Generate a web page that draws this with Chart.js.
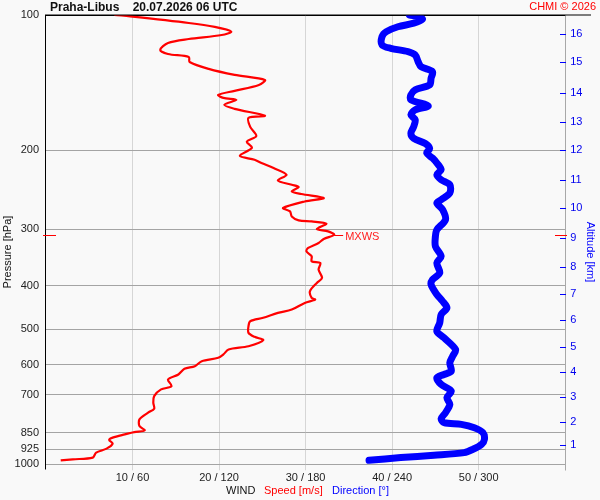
<!DOCTYPE html>
<html>
<head>
<meta charset="utf-8">
<script src="https://cdn.jsdelivr.net/npm/chart.js@4.4.1/dist/chart.umd.min.js"></script>
<style>
html, body { margin: 0; padding: 0; background: #f9f9f9; }
#wrap { width: 600px; height: 500px; }
</style>
</head>
<body>
<div id="wrap"><canvas id="chart"></canvas></div>
<script>
// axis ticks
const pressureTicks = [100, 200, 300, 400, 500, 600, 700, 850, 925, 1000];
const speedTicks = [10, 20, 30, 40, 50];
const altitudeKm = [1, 2, 3, 4, 5, 6, 7, 8, 9, 10, 11, 12, 13, 14, 15, 16];
const altitudePressure = [907, 804, 709, 624, 547, 478, 418, 363, 313, 269, 233, 200, 173, 149, 127, 110];

// wind speed profile [hPa] / [m/s]
const speedPressure = [100, 100.4, 104.2, 106.3, 108.9, 110.8, 113.1, 115.4, 119.6, 122.1,
    124, 127.2, 131.8, 135.9, 139.5, 143.1, 147.5, 150.6, 152.9, 154.5,
    158.5, 161.8, 167.6, 169.4, 177.4, 185.8, 191.5, 197.5, 205.8, 210,
    213.5, 219.1, 226.8, 233.5, 238.7, 241.5, 247, 250.3, 255.5, 260,
    268.9, 273.6, 280.7, 286.5, 288, 291.4, 299.4, 303.1, 308.3, 315.1,
    321.7, 330, 335.8, 344.4, 353.4, 356.4, 368.8, 384.8, 394.7, 412,
    426.1, 429.9, 437.3, 452.5, 460.2, 472, 480.4, 492.8, 509.8, 520.3,
    529.4, 546, 555.3, 569.6, 579.4, 589.5, 604.8, 612.9, 631, 647.4,
    670, 681.3, 705, 729.4, 752, 767.6, 794.4, 822, 840.5, 847.8,
    857.7, 872.3, 883, 899.5, 922.8, 941.9, 966.3, 974.7, 980];
const speed = [7.9, 9.0, 16.5, 19.5, 21.4, 20.3, 16.5, 14.1, 13.2, 14.1,
    16.5, 16.6, 18.8, 21.8, 25.3, 24.6, 21.8, 19.9, 20.5, 22.0,
    20.6, 21.8, 25.3, 23.4, 23.6, 24.3, 23.2, 23.8, 22.4, 24.1,
    24.9, 26.3, 27.8, 26.8, 28.4, 29.2, 28.4, 29.5, 32.1, 29.9,
    27.4, 28.2, 28.4, 29.2, 30.7, 32.4, 31.3, 32.6, 33.3, 32.1,
    31.5, 30.3, 30.1, 30.7, 30.7, 31.7, 31.5, 31.9, 31.3, 30.5,
    30.7, 31.1, 29.9, 28.4, 26.8, 25.1, 23.6, 23.4, 23.4, 24.1,
    25.1, 23.4, 21.1, 20.5, 19.9, 18.0, 17.2, 16.0, 15.3, 14.1,
    14.5, 13.3, 12.5, 12.4, 12.5, 11.8, 10.8, 10.8, 11.4, 10.2,
    9.1, 7.7, 7.3, 7.7, 7.0, 5.8, 5.4, 3.1, 1.7];

// wind direction profile [hPa] / [deg]
const dirPressure = [100, 100.9, 102.2, 104.3, 106.2, 108.9, 111.7, 116.6, 118.6, 120.6,
    122.7, 127, 130.3, 133.7, 138.3, 143.1, 146.8, 150.6, 154.5, 159.3,
    162.6, 166.8, 171.1, 177.1, 183.3, 188.2, 193.2, 198.2, 202.9, 208.2,
    213.5, 221, 226.8, 232.6, 238.7, 249, 257.7, 262.2, 271.2, 285.5,
    300.5, 311, 327.3, 344.4, 356.4, 375, 388.1, 398.1, 419, 433.6,
    448.5, 464.2, 484.4, 505.6, 523, 555.3, 574.5, 594.3, 620.4, 631,
    641.8, 664.1, 687.2, 711, 735.7, 767.6, 791.8, 808, 815, 829,
    850.4, 879.9, 902.7, 926.1, 942, 955, 966.3, 980];
const direction = [252, 259, 261, 255, 244, 236, 233, 233, 239, 251,
    256, 258, 260, 268, 267, 266, 256, 253, 253, 265,
    256, 253, 256, 255, 253, 255, 263, 266, 264, 268,
    271, 274, 271, 274, 280, 280, 274, 271, 275, 277,
    271, 270, 270, 274, 271, 273, 268, 267, 271, 275,
    278, 274, 273, 271, 276, 284, 282, 280, 281, 276,
    271, 274, 281, 278, 280, 277, 274, 276, 288, 297,
    303, 304, 302, 296, 290, 269, 246, 224];

const FONT = "'Liberation Sans', Arial, sans-serif";
Chart.defaults.font.family = FONT;
Chart.defaults.font.size = 11;
Chart.defaults.color = '#222';

// index of the strongest wind (MXWS)
let iMax = 0;
speed.forEach((v, i) => { if (v > speed[iMax]) iMax = i; });

const decor = {
    id: 'decor',
    beforeDraw(chart) {
        const c = chart.ctx;
        c.save();
        c.fillStyle = '#f9f9f9';
        c.fillRect(0, 0, chart.width, chart.height);
        c.restore();
    },
    afterDraw(chart) {
        const c = chart.ctx, a = chart.chartArea;
        const x = chart.scales.x, y = chart.scales.y;
        c.save();
        c.lineWidth = 1;

        // frame
        c.strokeStyle = '#a8a8a8';
        c.beginPath(); c.moveTo(565.5, a.top); c.lineTo(565.5, 470.5); c.stroke();
        c.strokeStyle = '#000';
        c.beginPath(); c.moveTo(45.5, a.top); c.lineTo(45.5, 469.5); c.stroke();
        c.beginPath(); c.moveTo(45, a.top); c.lineTo(591, a.top); c.stroke();

        // altitude tick marks
        c.strokeStyle = '#0000ff';
        altitudePressure.forEach(p => {
            const py = Math.round(y.getPixelForValue(p)) + 0.5;
            c.beginPath(); c.moveTo(560, py); c.lineTo(566, py); c.stroke();
        });

        // max wind marker
        const my = Math.round(y.getPixelForValue(speedPressure[iMax])) + 0.5;
        const mx = x.getPixelForValue(speed[iMax]);
        c.strokeStyle = '#ff0000';
        c.beginPath(); c.moveTo(43, my); c.lineTo(56, my); c.stroke();
        c.beginPath(); c.moveTo(555, my); c.lineTo(567, my); c.stroke();
        c.beginPath(); c.moveTo(mx, my); c.lineTo(mx + 9, my); c.stroke();
        c.fillStyle = '#ff2020';
        c.font = '11px ' + FONT;
        c.textBaseline = 'middle';
        c.textAlign = 'left';
        c.fillText('MXWS', mx + 11, my + 1);

        // header
        c.fillStyle = '#111';
        c.font = 'bold 12px ' + FONT;
        c.fillText('Praha-Libus    20.07.2026 06 UTC', 50, 8);
        c.fillStyle = '#ff0000';
        c.font = '11px ' + FONT;
        c.textAlign = 'right';
        c.fillText('CHMI \u00a9 2026', 596, 7);

        // bottom legend
        c.textAlign = 'left';
        c.fillStyle = '#111';
        c.fillText('WIND', 226, 491);
        c.fillStyle = '#ff0000';
        c.fillText('Speed [m/s]', 264, 491);
        c.fillStyle = '#0000ff';
        c.fillText('Direction [\u00b0]', 332, 491);

        // axis titles
        c.textAlign = 'center';
        c.fillStyle = '#111';
        c.save();
        c.translate(8, 252);
        c.rotate(-Math.PI / 2);
        c.fillText('Pressure [hPa]', 0, 0);
        c.restore();
        c.fillStyle = '#0000ff';
        c.save();
        c.translate(590, 252);
        c.rotate(Math.PI / 2);
        c.fillText('Altitude [km]', 0, 0);
        c.restore();

        c.restore();
    }
};

new Chart(document.getElementById('chart'), {
    type: 'scatter',
    data: {
        datasets: [{
            label: 'Direction',
            data: dirPressure.map((p, i) => ({ x: direction[i], y: p })),
            xAxisID: 'xDir',
            yAxisID: 'y',
            showLine: true,
            borderColor: '#0000ff',
            borderWidth: 7,
            borderCapStyle: 'round',
            borderJoinStyle: 'round',
            pointRadius: 0,
            tension: 0.3
        }, {
            label: 'Speed',
            data: speedPressure.map((p, i) => ({ x: speed[i], y: p })),
            xAxisID: 'x',
            yAxisID: 'y',
            showLine: true,
            borderColor: '#ff0000',
            borderWidth: 2.2,
            borderJoinStyle: 'round',
            pointRadius: 0,
            tension: 0.3
        }]
    },
    options: {
        responsive: true,
        maintainAspectRatio: false,
        animation: false,
        events: [],
        layout: { padding: { top: 15, left: 0, right: 0, bottom: 0 } },
        plugins: { legend: { display: false }, tooltip: { enabled: false } },
        scales: {
            x: {
                type: 'linear', position: 'bottom', min: 0, max: 60,
                afterBuildTicks: s => { s.ticks = speedTicks.map(v => ({ value: v })); },
                afterFit: s => { s.height = 35.7; },
                ticks: { callback: v => v + ' / ' + v * 6, padding: 1, maxRotation: 0, autoSkip: false, color: '#222' },
                grid: { color: '#d6d6d6', tickLength: 6 },
                border: { display: false }
            },
            xDir: { type: 'linear', min: 0, max: 360, display: false },
            y: {
                type: 'logarithmic', position: 'left', min: 100, max: 1000, reverse: true,
                afterBuildTicks: s => { s.ticks = pressureTicks.map(v => ({ value: v })); },
                afterFit: s => { s.width = 46; },
                ticks: { callback: v => String(v), padding: 7, autoSkip: false, color: '#222' },
                grid: { color: c => c.tick && c.tick.value === 100 ? '#000' : '#a4a4a4', drawTicks: false },
                border: { display: false }
            },
            alt: {
                type: 'logarithmic', position: 'right', min: 100, max: 1000, reverse: true,
                afterBuildTicks: s => { s.ticks = altitudePressure.map(v => ({ value: v })); },
                afterFit: s => { s.width = 34.8; },
                ticks: { callback: (v, i) => String(altitudeKm[i]), padding: 5, autoSkip: false, color: '#0000ee' },
                grid: { display: false, drawTicks: false },
                border: { display: false }
            }
        }
    },
    plugins: [decor]
});
</script>
</body>
</html>
